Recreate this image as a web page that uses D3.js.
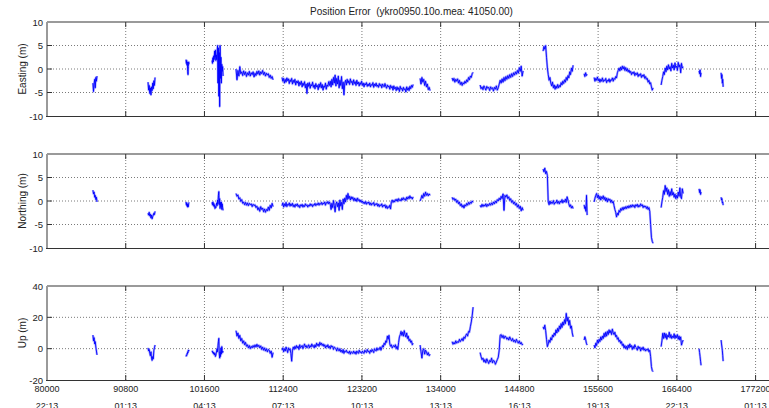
<!DOCTYPE html>
<html>
<head>
<meta charset="utf-8">
<script src="https://cdn.jsdelivr.net/npm/d3@7"></script>
<style>
  body { margin: 0; background: #fff; }
  svg { display: block; font-family: "Liberation Sans", Arial, sans-serif; }
</style>
</head>
<body>
<svg id="chart" width="769" height="408"></svg>
<script>
// time spans (seconds of week) of the tracking segments, same for all three components
const segStart = [86300, 93860, 99070, 102640, 105930, 112240, 131180, 135570, 139410, 148050, 153680, 155050, 164240, 169450, 172470];
const segEnd   = [86860, 94820, 99480, 104150, 111010, 130220, 132550, 138450, 145310, 152170, 154090, 163140, 167260, 169720, 172750];

const xTicks = [80000, 90800, 101600, 112400, 123200, 134000, 144800, 155600, 166400, 177200];
const timeLabels = ["22:13", "01:13", "04:13", "07:13", "10:13", "13:13", "16:13", "19:13", "22:13", "01:13"];

const easting = [
  [-3, -4.8, -3.2, -2.2, -4, -1.8, -2.6, -1.5],
  [-2.8, -4.5, -3.5, -5.2, -4, -5.5, -3.8, -4.6, -3, -4.2, -2.5, -3.5, -1.8],
  [2, 1.2, 1.8, 0.8, 1.5, -0.5, -1.2, 0.5, 1.5, 1],
  [1.8, 1.2, 2.4, 1.5, 2.8, 2, 3.8, 2.5, 4, 1.8, 3, 2, 3.6, 5, -3, 4.5, -5.8, 3.5, -8, 5, -2, 2.5, -3, 1, -0.5, 0.5, -1.5],
  [0, -2.3, -0.3, -1.5, 0.5, -1, -0.6, -1.4, -0.4, -1.2, -0.6, -1.6, -0.8, -1.3, -0.5, -1.5, -0.8, -1.2, -0.6, -1.7,
   -0.9, -1.4, -0.5, -1.1, -0.4, -1.3, -0.6, -1.0, -0.3, -1.2, -0.7, -1.5, -0.9, -1.3, -1.0, -1.8, -1.3, -2.0, -1.6, -2.3],
  [-1.8, -2.6, -2.0, -3.0, -2.2, -2.8, -1.9, -2.5, -2.1, -3.1,
   -2.3, -2.7, -2.0, -3.2, -2.4, -2.9, -2.2, -3.4, -2.6, -3.0,
   -2.5, -3.6, -2.8, -3.3, -2.6, -3.8, -3.0, -3.5, -2.7, -4.0,
   -3.2, -5.2, -3.0, -3.7, -2.9, -4.1, -3.3, -3.6, -2.8, -3.9,
   -3.4, -4.2, -3.1, -3.8, -3.5, -4.4, -3.2, -3.9, -2.9, -4.0,
   -3.3, -4.5, -3.6, -3.9, -3.0, -4.3, -3.4, -3.7, -2.7, -3.5,
   -2.6, -3.8, -2.2, -3.4, -1.8, -3.0, -1.3, -3.6, -2.0, -3.2,
   -1.5, -4.0, -2.4, -3.5, -1.6, -4.2, -2.8, -5.5, -3.0, -2.4,
   -3.4, -2.2, -3.0, -2.5, -3.3, -2.1, -2.9, -2.6, -3.4, -2.3,
   -3.1, -2.7, -3.5, -2.4, -3.2, -2.8, -3.6, -2.9, -3.3, -2.6,
   -3.5, -3.0, -3.8, -3.1, -3.4, -2.9, -3.7, -3.2, -3.6, -3.0,
   -3.8, -3.3, -3.5, -2.9, -3.9, -3.2, -3.6, -3.0, -3.7, -3.4,
   -3.9, -3.1, -3.6, -3.3, -4.0, -3.2, -3.5, -3.8, -3.1, -3.7,
   -4.1, -3.4, -3.8, -3.6, -4.3, -3.5, -4.0, -3.7, -4.5, -3.6,
   -4.2, -3.9, -4.6, -3.8, -4.4, -4.0, -4.8, -3.7, -4.3, -4.1,
   -4.7, -3.9, -4.4, -4.2, -4.9, -3.8, -4.5, -4.0, -4.6, -3.7,
   -4.2, -3.5, -3.9, -3.3],
  [-2.0, -3.2, -1.8, -2.8, -2.2, -3.5, -2.6, -3.8, -3.2, -4.4, -3.9, -4.6],
  [-1.9, -2.5, -2.0, -2.8, -2.2, -2.6, -2.1, -3.0, -2.4, -3.3, -2.8, -3.5, -2.9, -3.2, -2.6, -3.0, -2.3, -2.7, -1.8, -2.3, -1.5, -1.8, -1.0, -0.7],
  [-3.4, -4.2, -3.8, -4.4, -3.6, -4.0, -4.5, -3.7, -4.1, -3.9, -4.6, -3.8, -4.2, -4.0, -4.7, -3.9, -4.3, -3.6, -4.5, -4.0,
   -3.2, -2.4, -3.0, -2.1, -2.8, -1.8, -2.5, -1.6, -2.2, -1.4, -2.0, -1.2, -1.8, -1.0, -1.6, -0.8, -1.3, -0.6, -1.1, -0.3,
   -0.9, 0.3, -0.5, 0.6, -1.5, -0.4],
  [3.8, 4.8, 4.2, 5.0, 2.5, 0.2, -1.2, -2.4, -1.8, -3.0, -3.6, -2.8, -4.0, -3.4, -4.3, -3.6, -4.1, -3.3, -4.0, -3.5,
   -3.8, -2.9, -3.4, -2.6, -3.1, -2.3, -2.8, -1.8, -2.4, -1.4, -1.9, -0.6, -1.2, 0.2, -0.5, 0.8],
  [-1.0, -1.6, -0.8, -1.4, -1.1],
  [-1.8, -2.6, -2.0, -2.4, -1.7, -2.5, -2.1, -2.8, -2.2, -2.6, -1.9, -2.7, -2.3, -2.5, -2.0, -2.9, -2.4, -2.6, -2.1, -2.8,
   -2.3, -2.4, -1.9, -2.6, -2.0, -2.2, -1.6, -1.9,
   -0.8, -0.3, 0.2, -0.4, 0.4, -0.2, 0.6, 0.0, 0.5, -0.3, 0.3, -0.4, 0.1, -0.6, -0.2, -0.8,
   -0.5, -1.2, -0.7, -1.0, -0.6, -1.4, -0.9, -1.2, -0.8, -1.6, -1.1, -1.4, -1.0, -1.8, -1.3, -1.6, -1.2, -2.0, -1.6, -2.2,
   -2.0, -2.8, -2.4, -3.2, -2.9, -3.8, -4.5, -4.0],
  [-3.4, -2.4, -1.6, -0.6, -1.2, 0.2, -0.6, 0.6, -0.2, 0.9, 0.0, 0.5, -0.4, 1.2, 0.2, 0.8, -0.2, 1.3, 0.3, 0.6, -0.3, 1.4, 0.4, 0.9, -0.8, 1.2, 0.2, 0.5],
  [-0.4, -1.0, -0.2, -1.6, -0.8],
  [-0.8, -2.0, -1.2, -3.0, -2.2, -3.8]
];

const northing = [
  [2.3, 1.5, 1.9, 0.8, 1.2, 0.3, 0.8, -0.2],
  [-2.6, -3.0, -2.4, -3.2, -2.8, -3.6, -3.0, -3.8, -3.3, -3.0, -2.6, -2.9, -2.2],
  [-0.2, -0.8, -0.4, -1.1, -0.6, -1.3, -0.9, -1.2, -0.5, -0.3],
  [-0.3, -0.8, -0.2, -1.0, -0.5, -1.2, -0.8, -1.6, -1.2, -1.4, -0.9, -0.4, -1.0, 0.2, -0.6, 1.2, 2.0, -0.8, 0.5, -1.6, -0.3, -1.2, -0.2, -1.8, -0.6, -1.4, -2.0],
  [1.6, 1.0, 1.3, 0.4, 0.7, -0.1, 0.3, -0.5, -0.2, -0.8, -0.3, -0.9, -0.4, -1.0, -0.5, -0.8, -0.6, -1.2, -0.7, -1.0,
   -0.8, -1.4, -1.1, -1.9, -1.4, -2.2, -1.2, -1.8, -1.5, -2.3, -1.7, -2.4, -1.8, -2.1, -1.3, -2.0, -0.9, -1.5, -0.5, -1.2],
  [-1.0, -0.4, -1.3, -0.6, -1.1, -0.3, -1.2, -0.7, -0.9, -0.4,
   -1.1, -0.6, -1.0, -0.5, -1.2, -0.8, -1.3, -0.7, -1.0, -0.6,
   -1.2, -0.9, -1.4, -0.8, -1.1, -0.7, -1.3, -0.9, -1.2, -0.6,
   -1.0, -0.8, -1.3, -0.9, -1.1, -0.6, -1.0, -0.7, -1.2, -0.8,
   -0.9, -0.5, -1.0, -0.6, -0.8, -0.4, -0.9, -0.5, -0.7, -0.3,
   -0.8, -0.4, -0.6, -0.2, -0.9, -0.3, -0.5, -0.1, -0.6, -0.2,
   -0.7, -1.8, -0.5, -1.4, 0.1, -1.0, -2.3, -0.6, -0.2, -1.2,
   -0.4, -2.0, 0.2, -1.1, -0.3, -1.8, 0.4, -0.6, 0.6, -0.2,
   1.2, 0.3, 1.6, 0.5, 1.0, 0.2, 0.9, 0.4, 0.8, 0.1,
   0.6, 0.0, 0.5, -0.1, 0.6, 0.1, 0.3, -0.2, 0.2, -0.3,
   0.0, -0.5, -0.2, -0.6, -0.1, -0.7, -0.3, -0.5, -0.2, -0.8,
   -0.4, -0.9, -0.5, -0.7, -0.3, -1.0, -0.6, -0.8, -0.5, -1.1,
   -0.7, -1.2, -0.8, -1.0, -0.6, -1.3, -0.9, -1.1, -0.8, -1.5,
   -1.0, -1.6, -1.2, -1.4, -0.9, -1.7, -0.1, 0.2, -0.3, 0.1,
   -0.2, 0.3, 0.0, 0.4, -0.1, 0.5, 0.1, 0.3, 0.0, 0.6,
   0.2, 0.7, 0.3, 0.5, 0.1, 0.8, 0.4, 0.9, 0.5, 1.1,
   0.6, 0.8, 0.4, 0.9],
  [0.0, 0.5, 1.2, 0.6, 1.6, 1.0, 1.9, 1.2, 1.6, 1.1, 1.5, 1.2],
  [0.8, 0.3, 0.6, 0.1, 0.4, -0.3, 0.1, -0.6, -0.2, -1.0, -0.6, -1.3, -0.9, -1.5, -0.8, -1.1, -0.5, -0.9, -0.3, -0.7, -0.2, -0.5, 0.0, -0.3],
  [-0.9, -1.3, -0.7, -1.2, -0.8, -1.1, -0.6, -1.2, -0.7, -1.0, -0.5, -0.9, -0.4, -0.8, -0.2, -0.6, 0.0, -0.4, 0.3, 0.0,
   0.6, 0.2, 1.0, 0.5, 1.5, -2.0, 1.2, 0.8, 1.3, 0.5, 0.9, 0.1, 0.5, -0.3, 0.1, -0.6, -0.2, -0.9, -0.5, -1.3,
   -0.8, -1.6, -1.1, -2.1, -1.4, -2.0],
  [6.8, 6.2, 7.0, 5.8, 6.3, 5.4, -0.2, -0.8, 0.0, -0.6, -0.2, -0.5, 0.1, -0.7, -0.3, -0.4, 0.2, -0.5, -0.1, -0.6,
   0.0, -0.3, 0.3, -0.4, 0.1, -0.2, 0.4, -0.3, 0.9, 0.2, -0.6, -1.2, -0.8, -1.5, -1.1, -1.6],
  [-0.8, -1.6, -1.2, -2.2, 1.2, -3.0],
  [-0.2, 0.6, 1.2, 1.6, 0.7, 1.3, 0.4, 1.0, 0.2, 0.9, 0.5, 1.1, 0.3, 0.8, 0.0, 0.6, -0.2, 0.5, 0.1, 0.4, -0.3, 0.2, -0.4, -0.1,
   -1.0, -1.8, -2.4, -3.4, -2.6, -3.0, -2.0, -2.4,
   -1.6, -2.0, -1.4, -1.9, -1.3, -1.7, -1.2, -1.6, -1.1, -1.5, -1.0, -1.4, -0.9, -1.3, -0.8, -1.2,
   -0.9, -1.4, -0.8, -1.1, -0.7, -1.3, -0.9, -1.2, -0.6, -1.0, -0.8, -1.4, -1.0, -1.3, -1.1, -1.6,
   -1.2, -1.8, -1.4, -2.2, -5.0, -7.7, -8.6, -9.0],
  [-1.4, -0.2, 0.8, 2.2, 1.4, 3.3, 2.0, 2.8, 1.4, 2.4, 1.0, 2.0, 1.2, 2.6, 1.3, 1.8, 0.8, 1.5, 0.5, 1.2, 0.6, 1.9, 1.0, 2.8, 0.9, 0.5, 2.6, 1.6],
  [2.6, 1.8, 2.4, 1.4, 1.9],
  [0.8, 0.2, 0.5, -0.4, -0.2, -0.9]
];

const up = [
  [8.7, 5.0, 7.0, 3.0, 4.5, 1.0, -1.5, -4.0],
  [0.5, -1.5, -0.5, -3.0, -4.5, -2.0, -6.0, -7.5, -5.0, -6.5, -1.0, 0.5, 2.3],
  [-5.0, -4.2, -4.5, -3.2, -3.5, -2.0, -2.5, -1.0, -1.5, -0.8],
  [-2.0, -1.5, -2.8, -2.2, -3.5, -2.6, -4.0, -3.0, -5.0, -4.2, -3.0, -1.0, 0.0, -2.0, 2.0, 4.5, 6.6, -3.0, -6.0, -2.0, -5.0, 0.5, -3.5, 1.3, -1.0, -2.5, -1.5],
  [11.5, 8.0, 10.0, 6.5, 8.5, 5.0, 6.5, 3.5, 5.0, 2.5, 4.0, 1.5, 2.5, 0.5, 2.0, 0.0, 1.5, 0.5, 2.0, 0.8,
   2.4, 1.0, 2.8, 1.2, 2.2, 0.5, 1.8, -0.5, 1.0, -1.0, 0.5, -1.5, 0.0, -2.0, -0.5, -1.0, -3.0, -1.5, -5.5, -2.5],
  [-1.0, 0.5, -2.0, 0.0, -1.5, 1.0, -0.5, -2.5, 0.5, -1.0,
   0.0, -3.0, -8.0, -1.0, 1.0, -0.5, 1.5, 0.0, 2.0, 0.5,
   1.5, -0.5, 2.5, 0.5, 1.0, 2.0, 0.0, 1.5, 3.0, 1.0,
   2.0, 0.5, 1.5, 2.5, 0.5, 2.0, 1.0, 3.0, 1.5, 2.0,
   0.5, 2.5, 1.0, 3.5, 2.0, 3.0, 1.5, 4.0, 2.5, 3.5,
   2.0, 3.0, 1.5, 2.5, 0.5, 2.0, 1.0, 2.5, 0.5, 1.5,
   0.0, 2.0, 1.0, 1.5, -0.5, 1.0, 0.5, 0.0, -1.5, 0.5,
   -0.5, -1.5, 0.0, -2.0, -1.0, -2.5, -0.5, -3.0, -1.5, -2.0,
   -1.0, -2.5, -2.0, -3.0, -1.5, -3.5, -2.0, -2.5, -3.0, -1.5,
   -3.0, -2.0, -3.5, -1.5, -2.5, -3.0, -1.0, -2.5, -2.0, -3.0,
   -1.5, -2.5, -3.0, -1.0, -2.0, -2.5, -0.5, -2.0, -1.5, -3.0,
   -1.0, -2.0, -0.5, -1.5, -2.5, 0.0, -1.0, -1.5, 0.5, -1.0,
   0.0, -0.5, 1.0, -1.0, 0.5, 2.0, 1.0, 3.5, 2.5, 5.0,
   4.0, 8.0, 6.0, 8.5, 3.0, 1.5, 2.5, 0.5, 1.5, 2.0,
   1.0, 2.5, 0.0, 1.5, -0.5, 4.0, 7.5, 9.0, 11.0, 8.5,
   10.5, 8.0, 11.5, 9.0, 7.5, 10.0, 6.5, 8.0, 5.0, 6.0,
   4.0, 5.0, 2.5, 3.5],
  [2.3, -2.0, -6.0, -1.0, 0.0, -3.5, -1.0, -2.0, -4.0, -2.5, -4.5, -3.5],
  [4.5, 2.8, 4.0, 3.0, 5.0, 3.5, 4.5, 4.0, 6.0, 4.5, 5.5, 6.5, 5.0, 7.5, 6.5, 8.5, 9.5, 8.0, 11.0, 10.5, 14.0, 17.0, 21.0, 26.5],
  [-2.5, -5.0, -7.0, -6.0, -8.5, -7.0, -9.0, -6.5, -8.0, -9.5, -7.5, -8.5, -6.0, -9.0, -7.5, -8.0, -10.0, -8.5, -7.0, -5.5,
   -1.0, 8.5, 9.0, 7.0, 8.5, 6.5, 8.0, 7.5, 6.0, 7.0, 5.5, 7.5, 6.0, 5.0, 6.5, 4.5, 5.5, 4.0, 6.0, 4.5,
   3.5, 5.0, 3.0, 4.0, 2.5, 3.0],
  [14.0, 12.5, 15.0, 11.5, 6.0, 1.3, 3.0, 5.5, 4.0, 7.0, 5.5, 8.7, 7.5, 10.0, 8.5, 12.0, 10.0, 13.0, 11.0, 14.5,
   12.5, 16.0, 13.5, 17.0, 15.0, 18.5, 16.0, 22.5, 17.5, 20.0, 15.0, 18.0, 13.0, 14.5, 10.0, 7.6],
  [5.5, 7.6, 6.0, 3.5, 2.3],
  [2.3, 0.5, 3.5, 2.0, 5.5, 3.5, 6.0, 4.5, 7.5, 5.5, 8.0, 6.5, 9.8, 7.5, 10.5, 8.0, 11.0, 9.0, 12.0, 10.0, 11.5, 9.0, 12.5, 10.0,
   9.0, 10.5, 7.6, 8.5, 6.0, 7.0, 4.5, 5.5,
   3.4, 4.5, 2.0, 3.0, 0.5, 2.0, 0.0, 1.5, -0.5, 2.3, 0.5, 3.0, 1.0, 2.0, -0.5, 1.5,
   0.0, 2.5, 1.0, 0.5, -1.0, 1.5, 0.0, 1.0, -1.5, 0.5, -0.5, 1.0, -1.0, 0.0, -1.5, -0.5,
   -1.0, 0.0, -2.0, -1.0, -5.0, -11.5, -14.0, -14.7],
  [1.3, 5.0, 9.8, 6.5, 10.0, 7.0, 9.5, 6.0, 8.5, 7.5, 10.5, 7.0, 9.0, 6.5, 8.0, 7.0, 9.5, 6.5, 8.5, 7.0, 9.0, 6.0, 8.0, 5.5, 7.5, 2.3, 4.0, 5.5],
  [0.0, -2.5, -5.0, -8.0, -10.6],
  [5.5, 3.0, 1.0, -1.0, -4.5, -8.0]
];

const panels = [
  { label: "Easting (m)",  values: easting,  domain: [-10, 10], ticks: [-10, -5, 0, 5, 10], top: 22,  bottom: 116 },
  { label: "Northing (m)", values: northing, domain: [-10, 10], ticks: [-10, -5, 0, 5, 10], top: 154, bottom: 248 },
  { label: "Up (m)",       values: up,       domain: [-20, 40], ticks: [-20, 0, 20, 40],    top: 286, bottom: 380 }
];

const svg = d3.select("#chart");
const x = d3.scaleLinear().domain([80000, 180000]).range([47, 776]);
const left = x.range()[0], right = x.range()[1];

svg.append("text")
  .attr("x", (left + right) / 2)
  .attr("y", 15)
  .attr("text-anchor", "middle")
  .attr("font-size", 10)
  .attr("fill", "#222")
  .attr("xml:space", "preserve")
  .text("Position Error  (ykro0950.10o.mea: 41050.00)");

panels.forEach((p, pi) => {
  const y = d3.scaleLinear().domain(p.domain).range([p.bottom, p.top]);
  const g = svg.append("g");

  // dotted grid
  g.selectAll(".vgrid").data(xTicks.slice(1)).enter().append("line")
    .attr("x1", d => x(d)).attr("x2", d => x(d))
    .attr("y1", p.top).attr("y2", p.bottom)
    .attr("stroke", "#7a7a7a").attr("stroke-dasharray", "1,2");
  g.selectAll(".hgrid").data(p.ticks.slice(1, -1)).enter().append("line")
    .attr("x1", left).attr("x2", right)
    .attr("y1", d => y(d)).attr("y2", d => y(d))
    .attr("stroke", "#7a7a7a").attr("stroke-dasharray", "1,2");

  // data segments: soft halo + blue trace
  const line = d3.line().x(d => x(d[0])).y(d => y(d[1]));
  p.values.forEach((vals, s) => {
    const t0 = segStart[s], t1 = segEnd[s];
    const pts = vals.map((v, i) => [t0 + (t1 - t0) * i / (vals.length - 1), v]);
    g.append("path")
      .attr("d", line(pts))
      .attr("fill", "none")
      .attr("stroke", "#a8a8ff")
      .attr("stroke-width", 2.2)
      .attr("stroke-linejoin", "round");
    g.append("path")
      .attr("d", line(pts))
      .attr("fill", "none")
      .attr("stroke", "#0000ff")
      .attr("stroke-width", 0.9);
  });

  // box
  g.append("line").attr("x1", left).attr("x2", right).attr("y1", p.top).attr("y2", p.top)
    .attr("stroke", "#9a9a9a").attr("stroke-width", 2);
  g.append("line").attr("x1", left).attr("x2", left).attr("y1", p.top).attr("y2", p.bottom)
    .attr("stroke", "#9a9a9a").attr("stroke-width", 2);
  g.append("line").attr("x1", left - 1).attr("x2", right).attr("y1", p.bottom + 0.5).attr("y2", p.bottom + 0.5)
    .attr("stroke", "#333");

  // tick marks
  g.selectAll(".xt").data(xTicks.slice(1)).enter().append("path")
    .attr("d", d => `M${x(d)},${p.bottom}v-5M${x(d)},${p.top}v5`)
    .attr("stroke", "#333");
  g.selectAll(".yt").data(p.ticks.slice(1, -1)).enter().append("line")
    .attr("x1", left).attr("x2", left + 5)
    .attr("y1", d => y(d)).attr("y2", d => y(d))
    .attr("stroke", "#333");

  // y tick labels
  g.selectAll(".yl").data(p.ticks).enter().append("text")
    .attr("x", left - 4)
    .attr("y", d => y(d) + 3.5)
    .attr("text-anchor", "end")
    .attr("font-size", 9.5)
    .attr("fill", "#222")
    .text(d => d);

  // y axis title
  g.append("text")
    .attr("transform", `translate(26,${(p.top + p.bottom) / 2}) rotate(-90)`)
    .attr("text-anchor", "middle")
    .attr("font-size", 10)
    .attr("fill", "#222")
    .text(p.label);

  // x labels only on the bottom panel
  if (pi === panels.length - 1) {
    g.selectAll(".xl").data(xTicks).enter().append("text")
      .attr("x", d => x(d))
      .attr("y", p.bottom + 12)
      .attr("text-anchor", "middle")
      .attr("font-size", 9)
      .attr("fill", "#222")
      .text(d => d);
    g.selectAll(".xl2").data(xTicks).enter().append("text")
      .attr("x", d => x(d))
      .attr("y", p.bottom + 29)
      .attr("text-anchor", "middle")
      .attr("font-size", 9)
      .attr("fill", "#222")
      .text((d, i) => timeLabels[i]);
  }
});
</script>
</body>
</html>
